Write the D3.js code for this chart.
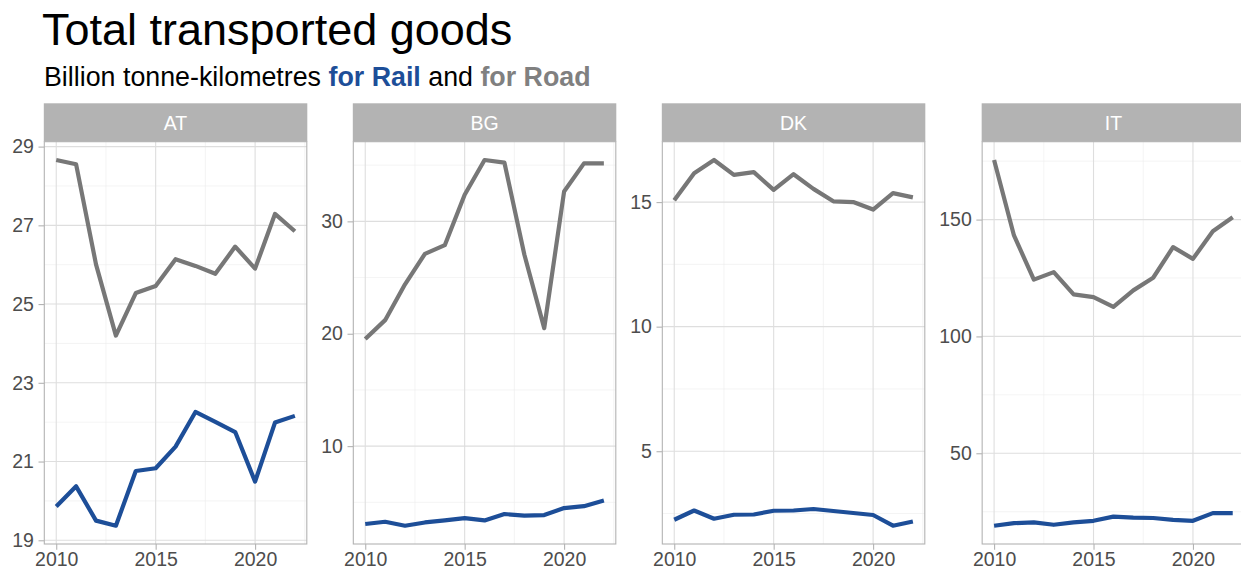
<!DOCTYPE html>
<html>
<head>
<meta charset="utf-8">
<script src="https://cdn.jsdelivr.net/npm/d3@7"></script>
<style>
  body { margin: 0; background: #fff; }
  text { font-family: "Liberation Sans", Arial, sans-serif; }
</style>
</head>
<body>
<div id="chart"></div>
<script>
// data
const years = [2010, 2011, 2012, 2013, 2014, 2015, 2016, 2017, 2018, 2019, 2020, 2021, 2022];
const countries = ["AT", "BG", "DK", "IT"];

const railAT = [19.86, 20.37, 19.50, 19.37, 20.76, 20.83, 21.38, 22.26, 22.01, 21.75, 20.49, 21.99, 22.16];
const roadAT = [28.66, 28.55, 26.01, 24.20, 25.28, 25.46, 26.14, 25.97, 25.77, 26.46, 25.90, 27.29, 26.85];
const railBG = [3.07, 3.27, 2.92, 3.21, 3.39, 3.60, 3.39, 3.96, 3.81, 3.87, 4.49, 4.66, 5.16];
const roadBG = [19.53, 21.21, 24.40, 27.11, 27.88, 32.36, 35.46, 35.22, 27.05, 20.50, 32.65, 35.16, 35.16];
const railDK = [2.25, 2.62, 2.29, 2.45, 2.46, 2.61, 2.62, 2.68, 2.60, 2.52, 2.44, 2.01, 2.18];
const roadDK = [15.07, 16.16, 16.69, 16.09, 16.20, 15.49, 16.12, 15.53, 15.03, 15.00, 14.70, 15.36, 15.19];
const railIT = [19.0, 20.1, 20.4, 19.4, 20.4, 21.1, 22.9, 22.5, 22.3, 21.5, 21.1, 24.4, 24.4];
const roadIT = [175.5, 143.2, 124.3, 127.5, 118.0, 116.8, 112.6, 119.7, 125.1, 138.2, 133.2, 145.0, 151.0];

const xTicks = [2010, 2015, 2020];
const yTicksAT = [19, 21, 23, 25, 27, 29];
const yTicksBG = [10, 20, 30];
const yTicksDK = [5, 10, 15];
const yTicksIT = [50, 100, 150];

const series = {
  AT: {rail: railAT, road: roadAT, ticks: yTicksAT},
  BG: {rail: railBG, road: roadBG, ticks: yTicksBG},
  DK: {rail: railDK, road: roadDK, ticks: yTicksDK},
  IT: {rail: railIT, road: roadIT, ticks: yTicksIT}
};

const railColor = "#1d4e98", roadColor = "#777777";
const W = 1241, H = 573;
const fontSize = 19.5;
const stripTop = 103.3, stripH = 38.4, panelTop = stripTop + stripH, panelBottom = 544;
const panelW = 262.5, spacing = 14.4, tickLen = 5.8, tickPad = 4.6, leftMargin = 12.2;

const svg = d3.select("#chart").append("svg")
    .attr("width", W)
    .attr("height", H);

svg.append("text")
    .attr("x", 42)
    .attr("y", 44.5)
    .style("font-size", "45px")
    .attr("fill", "#000")
    .text("Total transported goods");

const sub = svg.append("text")
    .attr("x", 44)
    .attr("y", 85.5)
    .style("font-size", "26.8px")
    .attr("fill", "#000");
sub.append("tspan").text("Billion tonne-kilometres ");
sub.append("tspan").attr("fill", railColor).style("font-weight", "bold").text("for Rail");
sub.append("tspan").text(" and ");
sub.append("tspan").attr("fill", "#808080").style("font-weight", "bold").text("for Road");

// measure label widths so every panel gets its own axis space
const meas = svg.append("text").style("font-size", fontSize + "px");
function textW(s) { meas.text(s); return meas.node().getComputedTextLength(); }

let cursor = leftMargin;
countries.forEach(c => {
  const s = series[c];
  const labW = d3.max(s.ticks, t => textW(String(t)));
  const x0 = cursor + labW + tickPad + tickLen;
  cursor = x0 + panelW + spacing;

  const x = d3.scaleLinear()
      .domain([years[0] - 0.6, years[years.length - 1] + 0.6])
      .range([0, panelW]);
  const all = s.rail.concat(s.road);
  const lo = d3.min(all), hi = d3.max(all), pad = (hi - lo) * 0.05;
  const y = d3.scaleLinear()
      .domain([lo - pad, hi + pad])
      .range([panelBottom - panelTop, 0]);

  const g = svg.append("g").attr("transform", `translate(${x0},${panelTop})`);
  const ph = panelBottom - panelTop;

  // minor grid
  const step = s.ticks[1] - s.ticks[0];
  const yMinor = d3.range(s.ticks[0] - step / 2, s.ticks[s.ticks.length - 1] + step, step)
      .filter(v => v >= y.domain()[0] && v <= y.domain()[1]);
  const xMinor = [2007.5, 2012.5, 2017.5, 2022.5].filter(v => v >= x.domain()[0] && v <= x.domain()[1]);
  g.selectAll(".ymin").data(yMinor).join("line")
      .attr("x1", 0).attr("x2", panelW)
      .attr("y1", d => y(d)).attr("y2", d => y(d))
      .attr("stroke", "#ededed").attr("stroke-width", 0.6);
  g.selectAll(".xmin").data(xMinor).join("line")
      .attr("y1", 0).attr("y2", ph)
      .attr("x1", d => x(d)).attr("x2", d => x(d))
      .attr("stroke", "#ededed").attr("stroke-width", 0.6);
  // major grid
  g.selectAll(".ymaj").data(s.ticks).join("line")
      .attr("x1", 0).attr("x2", panelW)
      .attr("y1", d => y(d)).attr("y2", d => y(d))
      .attr("stroke", "#dedede").attr("stroke-width", 1.1);
  g.selectAll(".xmaj").data(xTicks).join("line")
      .attr("y1", 0).attr("y2", ph)
      .attr("x1", d => x(d)).attr("x2", d => x(d))
      .attr("stroke", "#dedede").attr("stroke-width", 1.1);

  // axes
  const ya = g.append("g")
      .call(d3.axisLeft(y).tickValues(s.ticks).tickSize(tickLen).tickPadding(tickPad).tickFormat(d3.format("d")));
  const xa = g.append("g")
      .attr("transform", `translate(0,${ph})`)
      .call(d3.axisBottom(x).tickValues(xTicks).tickSize(tickLen).tickPadding(2).tickFormat(d3.format("d")));
  [ya, xa].forEach(a => {
    a.select(".domain").remove();
    a.selectAll("line").attr("stroke", "#b3b3b3").attr("stroke-width", 1.1);
    a.selectAll("text").attr("fill", "#4d4d4d").style("font-size", fontSize + "px")
      .style("font-family", "'Liberation Sans', Arial, sans-serif");
  });

  // lines
  const line = d3.line().x((d, i) => x(years[i])).y(d => y(d));
  g.append("path").datum(s.road).attr("d", line)
      .attr("fill", "none").attr("stroke", roadColor).attr("stroke-width", 4.2)
      .attr("stroke-linejoin", "round");
  g.append("path").datum(s.rail).attr("d", line)
      .attr("fill", "none").attr("stroke", railColor).attr("stroke-width", 4.2)
      .attr("stroke-linejoin", "round");

  // border
  g.append("rect").attr("width", panelW).attr("height", ph)
      .attr("fill", "none").attr("stroke", "#b3b3b3").attr("stroke-width", 1.1);

  // strip
  svg.append("rect")
      .attr("x", x0 - 0.5).attr("y", stripTop)
      .attr("width", panelW + 1).attr("height", stripH)
      .attr("fill", "#b3b3b3");
  svg.append("text")
      .attr("x", x0 + panelW / 2).attr("y", stripTop + stripH / 2)
      .attr("text-anchor", "middle").attr("dominant-baseline", "central")
      .style("font-size", fontSize + "px")
      .attr("fill", "#ffffff")
      .text(c);
});
meas.remove();
</script>
</body>
</html>
